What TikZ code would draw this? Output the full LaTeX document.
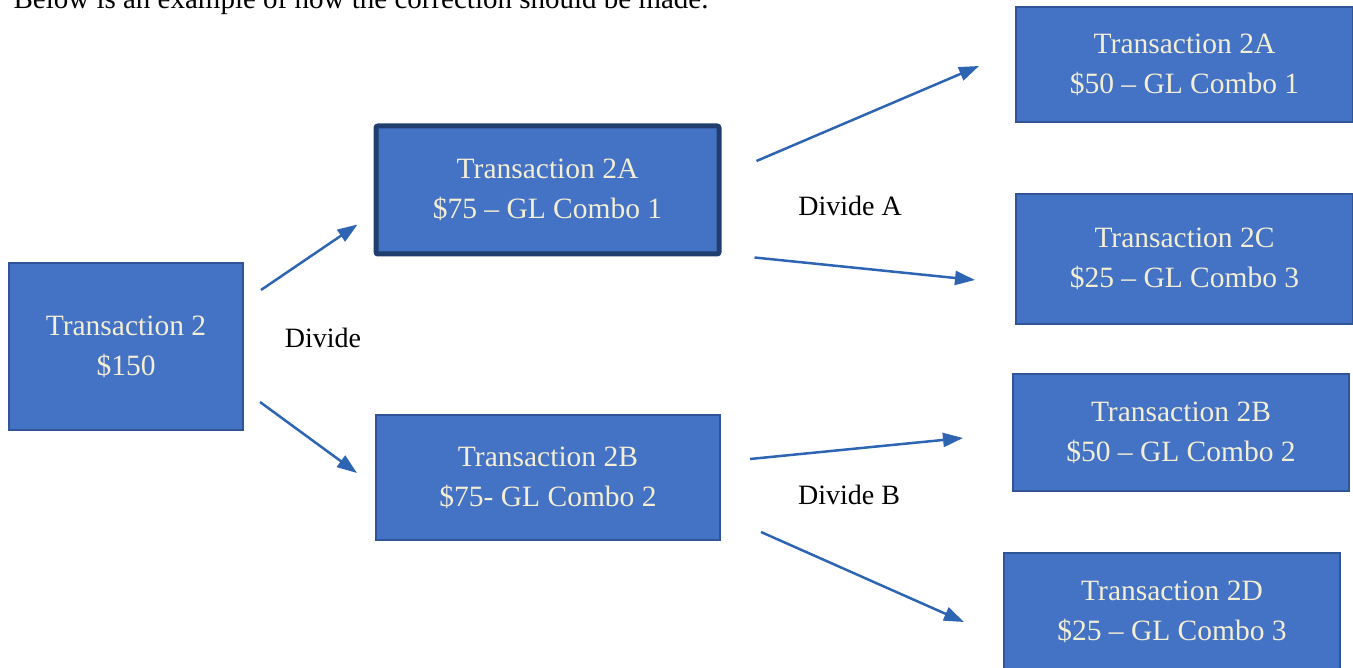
\documentclass[tikz,border=0pt]{standalone}
\usepackage{fontspec}
\setmainfont{Liberation Serif}
\usetikzlibrary{arrows.meta}
\definecolor{boxblue}{HTML}{4472C4}
\definecolor{boxedge}{HTML}{2F5597}
\definecolor{darkedge}{HTML}{203F6E}
\definecolor{arrowblue}{HTML}{2E65B3}
\definecolor{cream}{RGB}{243,238,214}

\begin{document}
\begin{tikzpicture}[x=1pt, y=-1pt, >={Triangle[length=20pt,width=14pt]},
  txbox/.style={draw=boxedge, line width=2pt, fill=boxblue, text=cream, align=center,
    inner sep=0pt, font=\fontsize{29.5}{40}\selectfont},
  picked/.style={txbox, draw=darkedge, line width=5pt, rounded corners=2pt},
  arr/.style={->, draw=arrowblue, line width=2.5pt},
  lbl/.style={font=\fontsize{28}{34}\selectfont}]
  \clip (0,0) rectangle (1353,668);
  \node[lbl, font=\fontsize{29}{34}\selectfont, anchor=base west] (intro) at (10,9) {Below is an example of how the correction should be made.};
  % first split
  \node[txbox, minimum width=234pt, minimum height=167pt] (t2) at (126,346.5) {Transaction 2\\\$150};
  \node[picked, minimum width=343pt, minimum height=128pt] (t2a) at (547.5,190) {Transaction 2A\\\$75 -- GL Combo 1};
  \node[txbox, minimum width=344pt, minimum height=125pt] (t2b) at (548,477.5) {Transaction 2B\\\$75- GL Combo 2};
  % second split
  \node[txbox, minimum width=337pt, minimum height=115pt] (r2a) at (1184.5,64.5) {Transaction 2A\\\$50 -- GL Combo 1};
  \node[txbox, minimum width=337pt, minimum height=130pt] (r2c) at (1184.5,259) {Transaction 2C\\\$25 -- GL Combo 3};
  \node[txbox, minimum width=336pt, minimum height=117pt] (r2b) at (1181,432.5) {Transaction 2B\\\$50 -- GL Combo 2};
  \node[txbox, minimum width=336pt, minimum height=117pt] (r2d) at (1172,611.5) {Transaction 2D\\\$25 -- GL Combo 3};
  \node[lbl] (div) at (323,338) {Divide};
  \node[lbl] (diva) at (850,206) {Divide A};
  \node[lbl] (divb) at (849,495) {Divide B};
  \draw[arr] ([shift={(17,-56.5)}]t2.east) -- ([shift={(-16,-32)}]t2a.south west);
  \draw[arr] ([shift={(16,55.5)}]t2.east) -- ([shift={(-18,-4.5)}]t2b.west);
  \draw[arr] ([shift={(35,-29)}]t2a.east) -- ([shift={(-36,1.5)}]r2a.west);
  \draw[arr] ([shift={(33,1)}]t2a.south east) -- ([shift={(-40,21)}]r2c.west);
  \draw[arr] ([shift={(29,-18.5)}]t2b.east) -- ([shift={(-49,5.5)}]r2b.west);
  \draw[arr] ([shift={(40,54.5)}]t2b.east) -- ([shift={(-39,10.5)}]r2d.west);
\end{tikzpicture}
\end{document}
